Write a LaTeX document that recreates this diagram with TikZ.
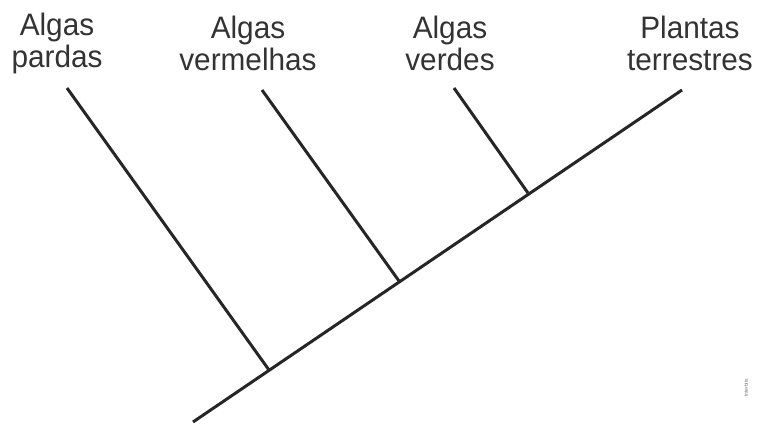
\documentclass[tikz,border=0pt]{standalone}
\usepackage{fontspec}
\setmainfont{Liberation Sans}
\begin{document}
\begin{tikzpicture}[x=1pt,y=-1pt,
  branch/.style={draw=black!85,line width=3pt,line cap=butt},
  taxon/.style={font=\fontsize{31}{32}\selectfont,align=center,text=black!80,inner sep=0pt,xscale=0.96},
  credit/.style={font=\fontsize{5}{6}\selectfont,text=black!55,rotate=90,inner sep=0pt}]
\useasboundingbox (0,0) rectangle (762,427);
% tree points
\coordinate (root) at (193,422);
\coordinate (n1) at (269,370);
\coordinate (n2) at (399,281);
\coordinate (n3) at (528,193);
\coordinate (tp) at (67,88);
\coordinate (tv) at (262,90);
\coordinate (tg) at (454,88);
\coordinate (tt) at (682,90);
% labels
\node[taxon] (lp) at (57,43) {Algas\\pardas};
\node[taxon] (lv) at (248,43) {Algas\\vermelhas};
\node[taxon] (lg) at (450,43) {Algas\\verdes};
\node[taxon] (lt) at (690,43) {Plantas\\terrestres};
\node[credit] (cr) at (746,388) {Interbits};
% branches
\draw[branch] (root) -- (tt);
\draw[branch] (n1) -- (tp);
\draw[branch] (n2) -- (tv);
\draw[branch] (n3) -- (tg);
\end{tikzpicture}
\end{document}
